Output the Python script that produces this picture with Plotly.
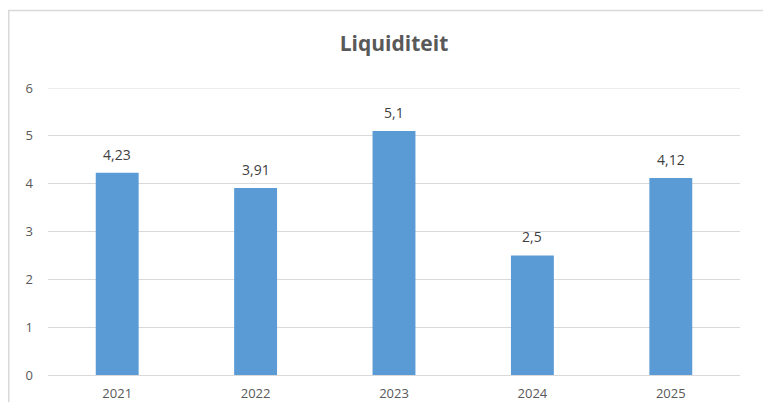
import plotly.graph_objects as go

years = ["2021", "2022", "2023", "2024", "2025"]
values = [4.23, 3.91, 5.1, 2.5, 4.12]
labels = ["4,23", "3,91", "5,1", "2,5", "4,12"]
y_ticks = [0, 1, 2, 3, 4, 5, 6]

# page has an 8px body margin; the figure is sized to fit the window
OFF = 8
W, H = 771 - OFF, 402 - OFF
L, R, T, B = 48 - OFF, 31, 88 - OFF, 27
pw, ph = W - L - R, H - T - B

fig = go.Figure(go.Bar(
    x=years, y=values,
    marker=dict(color="#5B9BD5", line=dict(width=0)),
    width=0.31, hoverinfo="x+y",
))

# category axis: annotations are placed by category index
for i, (v, lab) in enumerate(zip(values, labels)):
    fig.add_annotation(x=i, y=v, text=lab, showarrow=False, yanchor="bottom",
                       yshift=7, font=dict(size=14, color="#404040"))

fig.update_layout(
    width=W, height=H,
    margin=dict(l=L, r=R, t=T, b=B),
    paper_bgcolor="white", plot_bgcolor="white",
    font=dict(family="Open Sans, Liberation Sans, sans-serif", color="#595959", size=13),
    title=dict(text="<b>Liquiditeit</b>", x=(394 - 48) / pw, xref="paper", xanchor="center",
               y=1 - (44 - OFF) / H, yanchor="middle", font=dict(size=21, color="#595959")),
    showlegend=False,
    bargap=0.69,
)
fig.update_yaxes(range=[0, 6], tickvals=y_ticks, showgrid=True, gridcolor="#d9d9d9",
                 gridwidth=1, zeroline=False, showline=False, ticks="", automargin=False,
                 ticklabelstandoff=14, tickfont=dict(size=13, color="#595959"))
fig.update_xaxes(type="category", categoryorder="array", categoryarray=years,
                 range=[-0.5, len(years) - 0.5],
                 showline=True, linecolor="#d9d9d9", linewidth=1, ticks="", automargin=False,
                 ticklabelstandoff=6, tickfont=dict(size=13, color="#595959"))

# top gridline (plotly drops gridlines on the plot edge)
fig.add_shape(type="line", xref="paper", yref="y", x0=0, x1=1, y0=y_ticks[-1], y1=y_ticks[-1],
              line=dict(color="#d9d9d9", width=1), layer="below")

x0 = (0.75 - L) / pw
x1 = (W + 5 - L) / pw
y1 = (H - B - (10.5 - OFF)) / ph
y0 = (H - B - (H + 10)) / ph
fig.add_shape(type="rect", xref="paper", yref="paper", x0=x0, x1=x1, y0=y0, y1=y1,
              line=dict(color="#d9d9d9", width=1.5), layer="below")

fig.write_html("out.html")
